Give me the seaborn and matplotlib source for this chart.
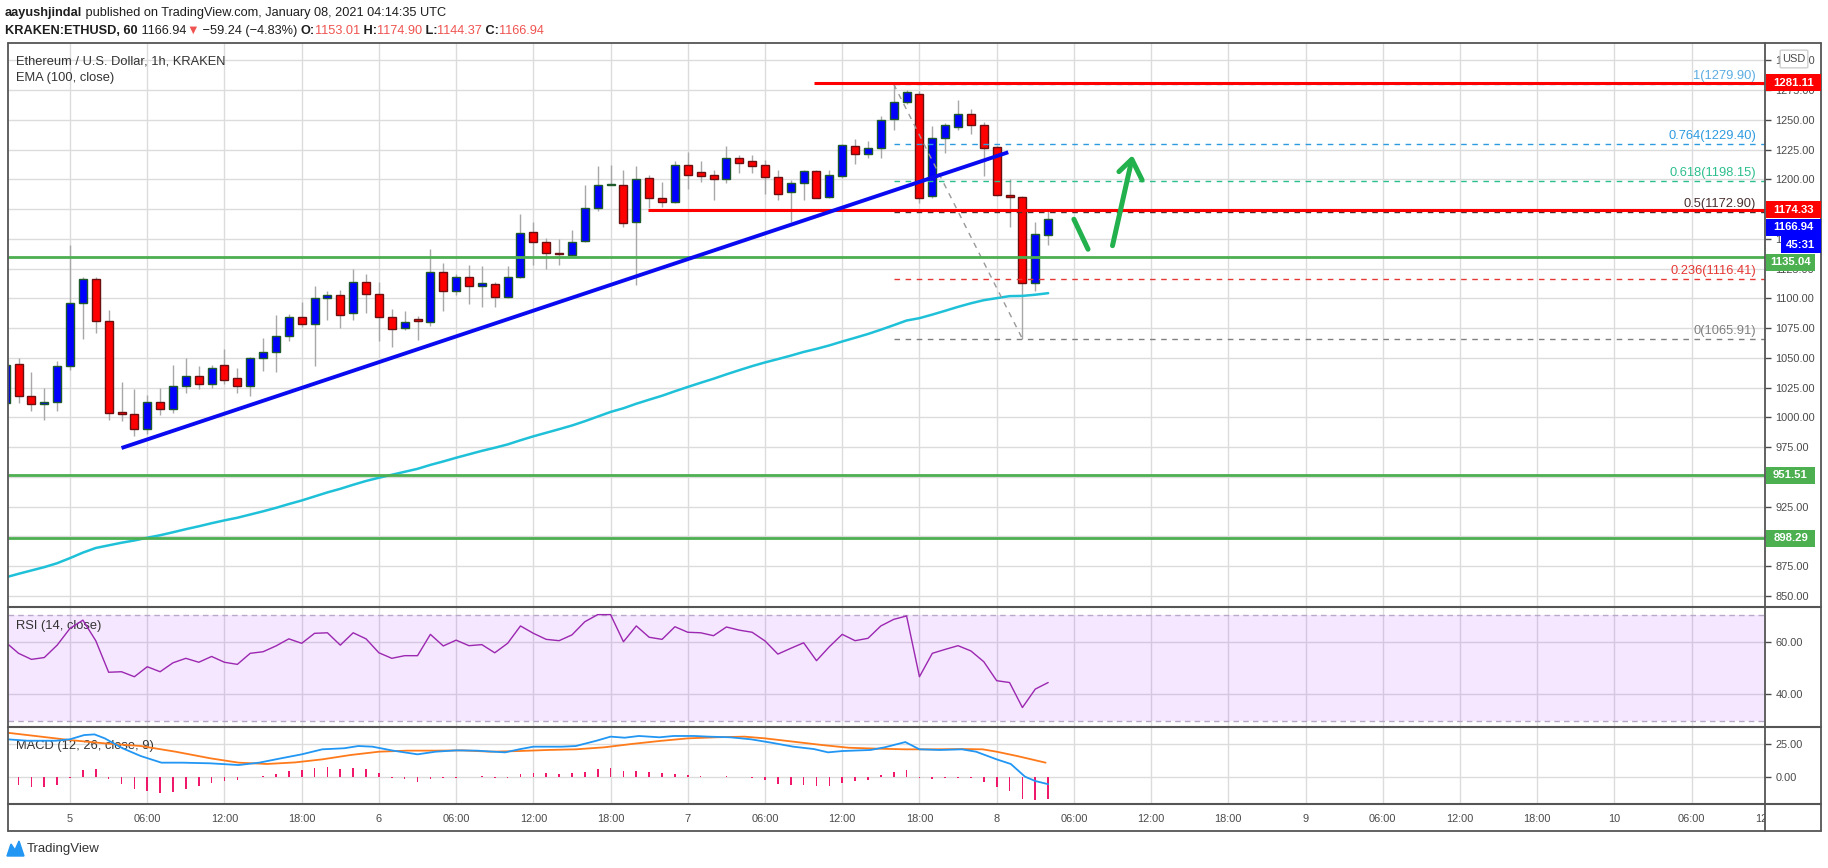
import matplotlib
matplotlib.use("Agg")
import matplotlib.pyplot as plt
import matplotlib.transforms as mtransforms
from matplotlib.patches import Rectangle, FancyBboxPatch, Polygon
from matplotlib.lines import Line2D
import seaborn as sns
import pandas as pd

# ---------------- data ----------------
hours = list(range(-5, 77))          # hours since 2021-01-05 00:00 UTC
opens = [1012, 1045, 1018, 1011, 1013, 1043, 1096, 1116, 1081, 1004, 1003, 990, 1013, 1007, 1026, 1035,
         1028, 1044, 1033, 1026, 1050, 1055, 1068, 1084, 1078, 1100, 1103, 1088, 1114, 1104, 1084, 1075,
         1081.5, 1080, 1122, 1106, 1118, 1110, 1112, 1101, 1118, 1156, 1147, 1137.5, 1136, 1148, 1176,
         1195, 1195, 1164, 1201, 1184, 1181, 1212, 1206, 1204, 1200, 1218, 1215, 1212, 1202, 1189, 1197,
         1207, 1185, 1203, 1228, 1221, 1226, 1251, 1265, 1272, 1186, 1235, 1244, 1255, 1246, 1227, 1187,
         1185, 1113, 1153.01]
highs = [1046, 1050, 1038, 1025, 1047, 1145, 1118, 1118, 1090, 1030, 1024, 1019, 1025, 1044, 1050, 1043,
         1044, 1057, 1041, 1051, 1067, 1086, 1087, 1097, 1110, 1106, 1107, 1125, 1120, 1114, 1091, 1089,
         1085, 1141, 1130, 1120, 1128, 1127, 1114, 1127, 1171, 1164, 1151, 1150, 1157, 1195, 1211,
         1212, 1208, 1211, 1204, 1198, 1215, 1223, 1215, 1208, 1228, 1220, 1220, 1216, 1208, 1199, 1208,
         1208, 1208, 1230, 1234, 1232, 1253, 1279.9, 1275, 1274, 1245, 1247, 1267, 1259, 1248, 1228, 1200,
         1186, 1164, 1174.9]
lows = [1008, 1012, 1005, 998, 1005, 1040, 1066, 1071, 998, 997, 984, 986, 1002, 1004, 1020, 1024,
        1025, 1028, 1020, 1018, 1039, 1038, 1064, 1076, 1043, 1082, 1075, 1082, 1088, 1064, 1059, 1073,
        1065, 1077, 1089, 1103, 1095, 1093, 1093, 1100, 1117, 1128, 1125, 1128, 1135, 1147, 1173,
        1195, 1160, 1111, 1176, 1177, 1180, 1192, 1198, 1183, 1197, 1205, 1205, 1188, 1183, 1164, 1183,
        1184, 1184, 1201, 1213, 1218, 1218, 1241, 1263, 1180, 1184, 1222, 1241, 1238, 1203, 1186, 1160,
        1065.91, 1106, 1144.37]
closes = [1044, 1018, 1011, 1013, 1043, 1096, 1116, 1081, 1004, 1003, 990, 1013, 1007, 1026, 1035, 1028,
          1041, 1031, 1026, 1050, 1055, 1068, 1084, 1078, 1100, 1103, 1086, 1114, 1104, 1084, 1074, 1080,
          1081, 1122, 1106, 1118, 1110, 1113, 1101, 1118, 1155, 1147, 1138, 1137, 1147, 1176, 1195,
          1196, 1163, 1200, 1184, 1181, 1212, 1204, 1203, 1200, 1218, 1214, 1211, 1202, 1188, 1197, 1207,
          1184.5, 1204, 1229, 1221.5, 1226, 1250, 1265, 1273, 1184, 1235, 1246, 1255, 1246, 1226, 1187, 1185,
          1113, 1154, 1166.94]
ema100 = [865.5, 868.5, 871.3, 874.1, 877.4, 881.7, 886.3, 890.2, 892.4, 894.6, 896.5, 898.8, 900.9, 903.4,
          906.0, 908.4, 911.0, 913.4, 915.6, 918.3, 921.0, 923.9, 927.1, 930.1, 933.5, 936.9, 939.9, 943.3,
          946.5, 949.2, 951.7, 954.2, 956.7, 960.0, 962.9, 966.0, 968.9, 971.8, 974.4, 977.2, 980.7, 984.0,
          987.0, 990.0, 993.1, 996.7, 1000.6, 1004.5, 1007.6, 1011.4, 1014.8, 1018.1, 1021.9, 1025.5, 1029.0,
          1032.4, 1036.1, 1039.6, 1043.0, 1046.1, 1048.9, 1051.8, 1054.9, 1057.5, 1060.4, 1063.7, 1066.8,
          1070.0, 1073.6, 1077.4, 1081.3, 1083.3, 1086.3, 1089.5, 1092.8, 1095.8, 1098.4, 1100.1, 1101.8,
          1102.0, 1103.0, 1104.3]
rsi14 = [59.8, 55.6, 53.3, 54.0, 58.7, 65.1, 68.2, 60.4, 48.4, 48.6, 46.7, 50.5, 48.6, 52.0, 53.7, 52.2,
         54.4, 52.2, 51.4, 55.6, 56.2, 58.4, 61.1, 59.4, 63.2, 63.4, 58.7, 63.4, 61.1, 55.8, 53.7, 54.7,
         54.7, 62.8, 58.4, 60.6, 58.5, 58.9, 55.8, 59.4, 66.0, 63.2, 60.9, 60.4, 62.6, 67.6, 70.3, 70.3,
         60.0, 66.0, 61.7, 60.9, 65.7, 63.6, 63.4, 62.3, 65.6, 64.4, 63.6, 60.3, 55.3, 57.5, 59.6, 52.8,
         58.1, 62.8, 60.4, 61.3, 66.0, 68.5, 69.8, 46.7, 55.6, 57.1, 58.5, 56.5, 52.4, 45.2, 44.5, 35.0,
         42.0, 44.5]
macd_hours = [-4.9, -3.3, -1.1, 0, 1.1, 1.9, 2.7, 4.1, 5.5, 7.1, 8.7, 10.9, 13.1, 14.7, 16.4, 18.0, 19.6,
              21.3, 22.4, 23.5, 25.1, 27.0, 28.4, 30.0, 31.6, 33.8, 34.9, 36.0, 38.2, 39.3, 40.9, 42.0,
              43.1, 44.2, 45.8, 46.9, 48.5, 49.6, 51.3, 52.9, 54.5, 56.2, 57.8, 58.9, 60.0, 62.2, 63.3,
              64.9, 66.0, 67.6, 69.3, 70.4, 72.0, 73.1, 74.2, 75.0, 76.0]
macd_vals = [28.8, 27.7, 27.7, 28.8, 32.0, 32.5, 29.5, 21.9, 16.1, 11.1, 11.1, 10.6, 9.3, 11.1, 14.4, 17.4,
             21.2, 22.0, 23.7, 23.2, 20.2, 17.4, 19.4, 20.4, 20.2, 18.9, 21.2, 23.2, 23.2, 23.7, 27.7, 30.8,
             30.0, 31.3, 30.3, 31.3, 31.3, 30.8, 30.3, 28.8, 26.2, 23.2, 21.4, 18.9, 19.9, 20.7, 22.7,
             26.7, 21.2, 20.7, 21.2, 19.4, 13.6, 10.1, 0.5, -2.8, -5.2]
signal_hours = [-4.9, -2.7, 0, 2.7, 5.5, 8.2, 10.9, 13.1, 15.3, 17.5, 19.6, 21.8, 24.0, 26.2, 28.4, 30.5,
                32.7, 34.9, 37.1, 39.3, 41.5, 43.6, 45.8, 48.0, 50.2, 52.4, 54.0, 56.2, 58.4, 60.5, 62.7,
                64.9, 67.1, 69.3, 70.9, 72.0, 73.6, 75.8]
signal_vals = [33.8, 31.3, 28.2, 25.7, 23.7, 19.4, 14.4, 11.1, 10.1, 11.3, 13.6, 16.9, 19.4, 20.2, 20.2,
               20.4, 19.4, 19.9, 20.7, 21.2, 22.7, 25.2, 27.5, 29.5, 30.3, 30.8, 29.5, 27.0, 24.5, 22.4,
               21.7, 21.2, 21.2, 21.4, 21.2, 19.4, 16.1, 11.1]
hist_hours = list(range(-4, 77))
hist_vals = [-5.8, -7.1, -7.1, -5.8, -0.8, 5.6, 6.1, -1.3, -5.1, -8.8, -10.1, -11.6, -10.9, -8.8, -6.6,
             -4.0, -2.5, -2.0, 0.3, 1.3, 2.5, 4.5, 5.6, 7.3, 8.1, 6.3, 7.3, 6.3, 3.5, -0.3, -1.5, -3.5,
             -1.3, -0.8, -0.3, 0.5, 1.0, -0.3, -0.3, 2.5, 3.5, 3.5, 2.5, 3.0, 4.0, 6.1, 7.3, 4.8, 4.8,
             3.8, 3.0, 2.5, 1.8, 1.0, 0.3, 1.0, 0.5, -0.8, -2.0, -5.1, -5.8, -5.8, -6.3, -6.6, -4.0,
             -2.8, -2.0, 1.8, 3.8, 5.6, -0.3, -1.3, -0.8, -0.8, -0.8, -3.3, -7.1, -10.4, -16.4, -17.2, -16.4]

price_ticks = list(range(850, 1301, 25))
rsi_ticks = [40, 60]
macd_ticks = [0, 25]
time_ticks = list(range(0, 133, 6))
time_labels = [str(5 + h // 24) if h % 24 == 0 else "%02d:00" % (h % 24) for h in time_ticks]

level_prices = [1281.11, 1174.33, 1135.04, 951.51, 898.29]
level_colors = ["#FF0000", "#FF0000", "#4CAF50", "#4CAF50", "#4CAF50"]
level_start_hours = [57.8, 44.9, None, None, None]

fib_ratios = ["1", "0.764", "0.618", "0.5", "0.236", "0"]
fib_prices = [1279.90, 1229.40, 1198.15, 1172.90, 1116.41, 1065.91]
fib_colors = ["#5DADE2", "#2E9BE0", "#2BBF8E", "#4A3030", "#E53935", "#808080"]
fib_start_hour, fib_end_hour = 64, 74

trend_hours, trend_prices = [4, 72.9], [974.2, 1222.7]
arrow1_hours, arrow1_prices = [78.0, 79.1], [1166.4, 1141.2]
arrow2_hours, arrow2_prices = [81.0, 82.5], [1144.2, 1216.4]
head_hours, head_prices = [81.5, 82.5, 83.3], [1206.4, 1216.8, 1199.4]

last_price, countdown = 1166.94, "45:31"

# ---------------- layout ----------------
sns.set_theme(style="white")
plt.rcParams["font.family"] = ["Liberation Sans", "DejaVu Sans"]
W, H = 1828, 868
fig = plt.figure(figsize=(W / 100, H / 100), dpi=100)
fig.patch.set_facecolor("white")
L, R, RB = 8, 1765, 1821
TOP, S1, S2, S3, BOT = 43, 607, 727, 804, 831
XMIN, XMAX = -4.82, 131.7
GRID = "#DCDCDC"
TXT = "#4A4A4A"
FRAME = "#555555"
TICK_FS = 7.9
TITLE_FS = 9.3


def add_ax(y0, y1):
    a = fig.add_axes([L / W, 1 - y1 / H, (R - L) / W, (y1 - y0) / H])
    a.set_facecolor("white")
    for s in a.spines.values():
        s.set_visible(False)
    a.set_xlim(XMIN, XMAX)
    return a


ax = add_ax(TOP, S1)
ax_rsi = add_ax(S1, S2)
ax_macd = add_ax(S2, S3)
ax_time = add_ax(S3, BOT)

ax.set_ylim(840.6, 1314.5)
ax_rsi.set_ylim(27.6, 73.2)
ax_macd.set_ylim(-20.2, 38.1)
ax_time.set_ylim(0, 1)
ax_time.set_xticks([]); ax_time.set_yticks([])

for a, ticks, fmt in [(ax, price_ticks, "%.2f"), (ax_rsi, rsi_ticks, "%.2f"), (ax_macd, macd_ticks, "%.2f")]:
    a.set_xticks(time_ticks)
    a.set_yticks(ticks)
    a.set_yticklabels([fmt % t for t in ticks])
    a.yaxis.tick_right()
    a.tick_params(axis="x", length=0, labelbottom=False)
    a.tick_params(axis="y", direction="out", length=4, width=1, colors=TXT, labelsize=TICK_FS, pad=3.5)
    a.grid(True, color=GRID, linewidth=1.0, zorder=0)
    a.set_axisbelow(True)

# ---------------- main pane ----------------
for h, o, hi, lo, c in zip(hours, opens, highs, lows, closes):
    ax.vlines(h, lo, hi, color="#A8A8A8", linewidth=1.0, zorder=3)
    up = c >= o
    body_lo, body_h = min(o, c), max(abs(c - o), 1.4)
    ax.add_patch(Rectangle((h - 0.31, body_lo), 0.62, body_h,
                           facecolor="#0000FF" if up else "#FF0000",
                           edgecolor="#1E5A2A" if up else "#6A1010", linewidth=1.0, zorder=4))

df_ema = pd.DataFrame({"hour": hours, "ema": ema100})
sns.lineplot(data=df_ema, x="hour", y="ema", ax=ax, color="#1FC1D8", linewidth=1.8, zorder=5, legend=False)

for p, col, st in zip(level_prices, level_colors, level_start_hours):
    x0 = XMIN if st is None else st
    ax.plot([x0, XMAX], [p, p], color=col, linewidth=2.2 if col == "#FF0000" else 2.0, zorder=6,
            solid_capstyle="butt")

for ratio, p, col in zip(fib_ratios, fib_prices, fib_colors):
    ax.plot([fib_start_hour, XMAX], [p, p], color=col, linewidth=1.0, dashes=(4, 4), zorder=5)
    ax.annotate("%s(%.2f)" % (ratio, p), xy=(1, p),
                xycoords=mtransforms.blended_transform_factory(ax.transAxes, ax.transData),
                xytext=(-9, 2), textcoords="offset pixels", ha="right", va="bottom",
                color=col, fontsize=9.3, zorder=7)
ax.plot([fib_start_hour, fib_end_hour], [fib_prices[0], fib_prices[-1]], color="#999999",
        linewidth=1.0, dashes=(4, 4), zorder=5)

ax.plot(trend_hours, trend_prices, color="#0A0AF0", linewidth=2.8, zorder=6, solid_capstyle="butt")
for xs, ys in [(arrow1_hours, arrow1_prices), (arrow2_hours, arrow2_prices), (head_hours, head_prices)]:
    ax.plot(xs, ys, color="#22B14C", linewidth=3.6, solid_capstyle="round", solid_joinstyle="round", zorder=7)

ax.text(8 / (R - L), 1 - (61 - TOP) / (S1 - TOP), "Ethereum / U.S. Dollar, 1h, KRAKEN",
        transform=ax.transAxes, fontsize=TITLE_FS, color="#333333", va="center", ha="left")
ax.text(8 / (R - L), 1 - (78 - TOP) / (S1 - TOP), "EMA (100, close)",
        transform=ax.transAxes, fontsize=TITLE_FS, color="#333333", va="center", ha="left")

# ---------------- RSI ----------------
ax_rsi.axhspan(30, 70, color="#9915FF", alpha=0.1, zorder=1, linewidth=0)
for lv in (70, 30):
    ax_rsi.axhline(lv, color="#B9A9C9", linewidth=1.0, dashes=(4, 3), zorder=2)
df_rsi = pd.DataFrame({"hour": hours, "rsi": rsi14})
sns.lineplot(data=df_rsi, x="hour", y="rsi", ax=ax_rsi, color="#9C27B0", linewidth=1.0, zorder=4, legend=False)
ax_rsi.text(8 / (R - L), 1 - (626 - S1) / (S2 - S1), "RSI (14, close)", transform=ax_rsi.transAxes,
            fontsize=TITLE_FS, color="#333333", va="center", ha="left")

# ---------------- MACD ----------------
ax_macd.bar(hist_hours, hist_vals, width=0.13, color="#F0186A", zorder=3, linewidth=0)
sns.lineplot(x=signal_hours, y=signal_vals, ax=ax_macd, color="#FF7A1A", linewidth=1.3, zorder=4, legend=False)
sns.lineplot(x=macd_hours, y=macd_vals, ax=ax_macd, color="#2196F3", linewidth=1.3, zorder=5, legend=False)
ax_macd.text(8 / (R - L), 1 - (746 - S2) / (S3 - S2), "MACD (12, 26, close, 9)", transform=ax_macd.transAxes,
             fontsize=TITLE_FS, color="#333333", va="center", ha="left")
for a in (ax, ax_rsi, ax_macd):
    a.set_xlim(XMIN, XMAX)
    a.set_xlabel(""); a.set_ylabel("")

# ---------------- time axis ----------------
for h, lab in zip(time_ticks, time_labels):
    ax_time.text(h, 0.45, lab, ha="center", va="center", fontsize=TICK_FS, color=TXT, clip_on=True)

# ---------------- frame ----------------
def fline(xs, ys, **kw):
    fig.add_artist(Line2D([x / W for x in xs], [1 - y / H for y in ys], **kw))

for y in (TOP, S1, S2, S3, BOT):
    fline([L, RB], [y, y], color=FRAME, linewidth=1.3 if y in (TOP, BOT) else 1.5, zorder=20)
for x in (L, R, RB):
    fline([x, x], [TOP, BOT], color=FRAME, linewidth=1.3, zorder=20)

# ---------------- price label boxes ----------------
def data_to_px(a, price):
    return H - a.transData.transform((0, price))[1]

def box(y_center, text, color, x0=1766, x1=1818, hgt=17):
    fig.add_artist(Rectangle((x0 / W, 1 - (y_center + hgt / 2) / H), (x1 - x0) / W, hgt / H,
                             transform=fig.transFigure, facecolor=color, edgecolor="none", zorder=30))
    fig.text((x0 + x1) / 2 / W, 1 - y_center / H, text, ha="center", va="center", color="white",
             fontsize=8.2, fontweight="bold", zorder=31)

box(data_to_px(ax, level_prices[0]), "%.2f" % level_prices[0], "#FF0000", x1=1821)
box(data_to_px(ax, level_prices[1]), "%.2f" % level_prices[1], "#FF0000", x1=1821)
y_last = data_to_px(ax, last_price) + 8.8
box(y_last, "%.2f" % last_price, "#0000FF", x1=1821)
box(y_last + 17.5, countdown, "#0000FF", x0=1781, x1=1821)
box(data_to_px(ax, level_prices[2]) + 5.5, "%.2f" % level_prices[2], "#4CAF50", x1=1815)
box(data_to_px(ax, level_prices[3]), "%.2f" % level_prices[3], "#4CAF50", x1=1815)
box(data_to_px(ax, level_prices[4]), "%.2f" % level_prices[4], "#4CAF50", x1=1815)

fig.add_artist(FancyBboxPatch((1782 / W, 1 - 67 / H), 24 / W, 16 / H, boxstyle="round,pad=0.001",
                              transform=fig.transFigure, facecolor="white", edgecolor="#CFCFCF",
                              linewidth=1, zorder=30))
fig.text(1794 / W, 1 - 59 / H, "USD", ha="center", va="center", fontsize=TICK_FS, color=TXT, zorder=31)

# ---------------- header ----------------
renderer = fig.canvas.get_renderer()

def seq_text(x, y, pieces, size):
    for s, col, wt in pieces:
        t = fig.text(x / W, 1 - y / H, s, ha="left", va="center", color=col, fontsize=size,
                     fontweight=wt)
        x += t.get_window_extent(renderer).width

RED = "#EF5350"
DK = "#1E1E1E"
seq_text(5, 13, [("aayushjindal", DK, "bold"),
                 (" published on TradingView.com, January 08, 2021 04:14:35 UTC", DK, "normal")], 9.2)
seq_text(5, 31, [("KRAKEN:ETHUSD, 60", DK, "bold"), (" 1166.94", DK, "normal"), ("▼", RED, "normal"),
                 (" \u221259.24 (\u22124.83%) ", DK, "normal"), ("O:", DK, "bold"), ("1153.01", RED, "normal"),
                 (" H:", DK, "bold"), ("1174.90", RED, "normal"), (" L:", DK, "bold"),
                 ("1144.37", RED, "normal"), (" C:", DK, "bold"), ("1166.94", RED, "normal")], 9.2)

# ---------------- TradingView logo ----------------
fig.add_artist(Polygon([(7 / W, 1 - 856 / H), (11 / W, 1 - 844 / H), (15 / W, 1 - 850 / H),
                        (19 / W, 1 - 841 / H), (24 / W, 1 - 856 / H)], closed=True,
                       transform=fig.transFigure, facecolor="#2196F3", edgecolor="#2196F3", zorder=30))
fig.text(27 / W, 1 - 849 / H, "TradingView", ha="left", va="center", fontsize=9.5, color="#333333")

fig.savefig("out.png", dpi=100, facecolor="white")
